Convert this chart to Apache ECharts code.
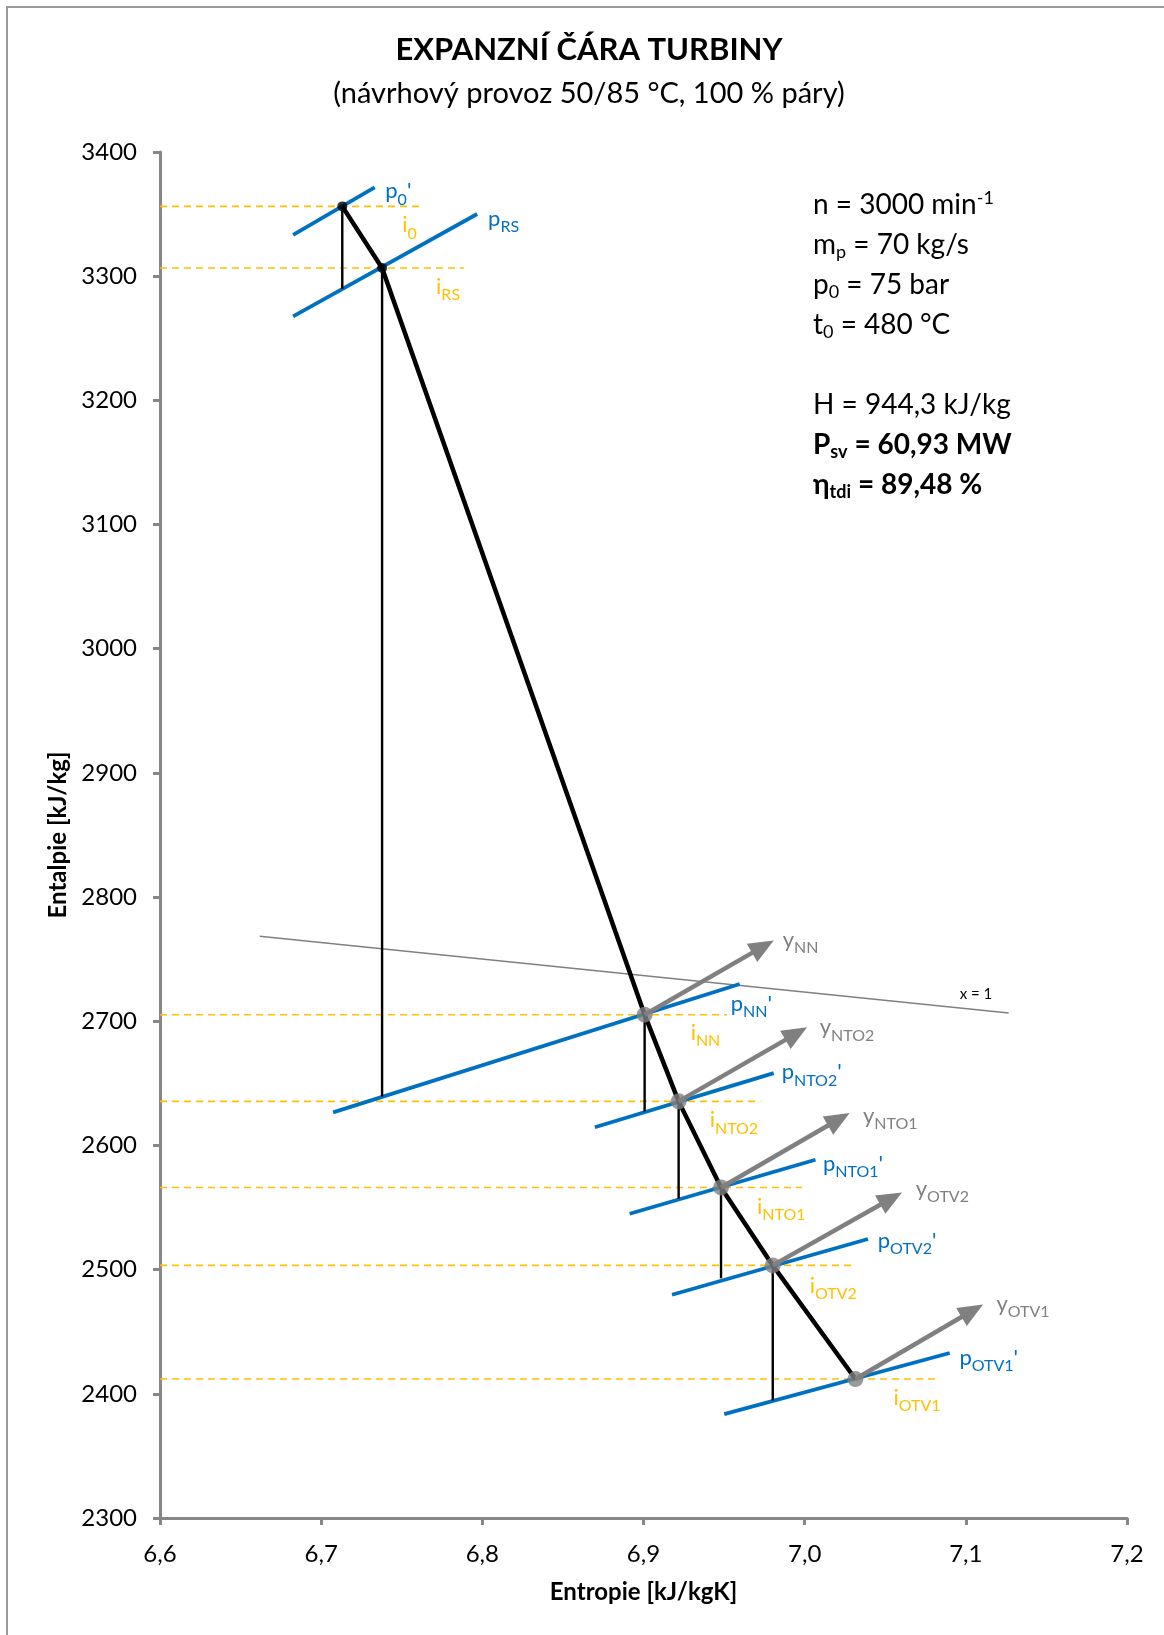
<!DOCTYPE html>
<html><head><meta charset="utf-8">
<script src="https://cdn.jsdelivr.net/npm/echarts@6/dist/echarts.min.js"></script>
<style>html,body{margin:0;padding:0;background:#fff}#c{width:1164px;height:1635px}</style>
</head><body><div id="c"></div>
<script>
// ---------------- DATA ----------------
const xMin = 6.6, xMax = 7.2, xStep = 0.1;
const yMin = 2300, yMax = 3400, yStep = 100;

// states on the expansion line
const stateKeys = ['0', 'RS', 'NN', 'NTO2', 'NTO1', 'OTV2', 'OTV1'];
const entropy  = [6.7131, 6.7378, 6.9007, 6.9218, 6.9481, 6.9802, 7.0315];
const enthalpy = [3356.2, 3306.6, 2705.3, 2635.5, 2566.2, 2503.4, 2411.9];

// isentropic drops: from state k (same entropy) down to the next isobar
const isentropicEnd = [3289.7, 2639.5, 2627.3, 2557.0, 2493.0, 2394.7];

// isobars p0', pRS, pNN', pNTO2', pNTO1', pOTV2', pOTV1'
const isobarS1 = [6.6826, 6.6826, 6.7074, 6.8698, 6.8914, 6.9177, 6.9501];
const isobarH1 = [3333.2, 3267.6, 2626.6, 2614.7, 2545.0, 2479.8, 2383.7];
const isobarS2 = [6.7332, 6.7968, 6.9597, 6.9808, 7.0067, 7.0393, 7.0900];
const isobarH2 = [3371.5, 3350.1, 2730.0, 2658.3, 2588.5, 2524.7, 2432.9];

// iso-enthalpy helper lines i_k (from the axis to this entropy)
const isoEnthalpyEndS = [6.7636, 6.7884, 6.9518, 6.9725, 6.9984, 7.0304, 7.0811];

// extraction arrows y_NN .. y_OTV1 (start = state NN..OTV1, tip below)
const extractionKeys = ['NN', 'NTO2', 'NTO1', 'OTV2', 'OTV1'];
const extractionTipS = [6.9808, 7.0015, 7.0279, 7.0604, 7.1107];
const extractionTipH = [2765.1, 2695.1, 2626.1, 2562.2, 2472.0];

// saturation line x = 1
const saturationS = [6.6619, 7.1266];
const saturationH = [2768.4, 2706.7];

// ---------------- STYLE ----------------
const FONT = 'Lato, "Noto Sans", sans-serif';
const BLUE = '#0070C0', YEL = '#FFC000', GRAY = '#808080', AX = '#878787';

const series = [];
stateKeys.forEach((k, i) => {
  series.push({type: 'line', silent: true, z: 1, symbol: 'none', animation: false,
    data: [[xMin, enthalpy[i]], [isoEnthalpyEndS[i], enthalpy[i]]],
    lineStyle: {color: YEL, width: 1.6, type: [7, 5]}});
});
series.push({type: 'line', silent: true, z: 2, symbol: 'none', animation: false,
  data: saturationS.map((s, i) => [s, saturationH[i]]),
  lineStyle: {color: GRAY, width: 1.5}});
isobarS1.forEach((s, i) => {
  series.push({type: 'line', silent: true, z: 3, symbol: 'none', animation: false,
    data: [[s, isobarH1[i]], [isobarS2[i], isobarH2[i]]],
    lineStyle: {color: BLUE, width: 3.8, cap: 'butt'}});
});
isentropicEnd.forEach((h, i) => {
  series.push({type: 'line', silent: true, z: 4, symbol: 'none', animation: false,
    data: [[entropy[i], enthalpy[i]], [entropy[i], h]],
    lineStyle: {color: '#000', width: 2.4}});
});
series.push({type: 'line', silent: true, z: 5, symbol: 'none', animation: false,
  data: entropy.map((s, i) => [s, enthalpy[i]]),
  lineStyle: {color: '#000', width: 4.5}});
series.push({type: 'custom', silent: true, z: 6, animation: false,
  encode: {x: [0, 2], y: [1, 3]},
  data: extractionKeys.map((k, j) => {
    const i = stateKeys.indexOf(k);
    return [entropy[i], enthalpy[i], extractionTipS[j], extractionTipH[j]];
  }),
  renderItem: (params, api) => {
    const a = api.coord([api.value(0), api.value(1)]);
    const b = api.coord([api.value(2), api.value(3)]);
    const dx = b[0] - a[0], dy = b[1] - a[1], L = Math.hypot(dx, dy);
    const ux = dx / L, uy = dy / L, nx = -uy, ny = ux;
    const hl = 25, hw = 21;
    const bx = b[0] - ux * hl, by = b[1] - uy * hl;
    return {type: 'group', children: [
      {type: 'line', shape: {x1: a[0], y1: a[1], x2: bx + ux * 3, y2: by + uy * 3},
        style: {stroke: GRAY, lineWidth: 4.5}},
      {type: 'polygon', shape: {points: [[b[0], b[1]], [bx + nx * hw / 2, by + ny * hw / 2], [bx - nx * hw / 2, by - ny * hw / 2]]},
        style: {fill: GRAY}}
    ]};
  }});
series.push({type: 'scatter', silent: true, z: 7, animation: false,
  data: entropy.map((s, i) => ({value: [s, enthalpy[i]],
    symbolSize: i < 2 ? 10 : 16,
    itemStyle: {color: i < 2 ? '#000' : GRAY}}))});

const chart = echarts.init(document.getElementById('c'), null, {renderer: 'canvas', width: 1164, height: 1635});
chart.setOption({
  animation: false,
  backgroundColor: '#fff',
  grid: {left: 160, right: 37, top: 152, bottom: 117, outerBoundsMode: 'none', containLabel: false},
  xAxis: {type: 'value', min: xMin, max: xMax, interval: xStep,
    name: 'Entropie [kJ/kgK]', nameLocation: 'middle', nameGap: 62,
    nameTextStyle: {fontFamily: FONT, fontWeight: 'bold', fontSize: 24, color: '#000'},
    axisLine: {show: true, lineStyle: {color: AX, width: 3}},
    axisTick: {show: true, length: 7, lineStyle: {color: AX, width: 3}},
    splitLine: {show: false},
    axisLabel: {margin: 24, fontFamily: FONT, fontSize: 24, color: '#000', hideOverlap: false,
      formatter: v => v.toFixed(1).replace('.', ',')}},
  yAxis: {type: 'value', min: yMin, max: yMax, interval: yStep,
    name: 'Entalpie [kJ/kg]', nameLocation: 'middle', nameGap: 88,
    nameTextStyle: {fontFamily: FONT, fontWeight: 'bold', fontSize: 24, color: '#000'},
    axisLine: {show: true, lineStyle: {color: AX, width: 3}},
    axisTick: {show: true, length: 7, lineStyle: {color: AX, width: 3}},
    splitLine: {show: false},
    axisLabel: {margin: 23, fontFamily: FONT, fontSize: 24, color: '#000', hideOverlap: false,
      formatter: v => String(Math.round(v))}},
  series: series
});

// ---------------- TEXT ----------------
function sym(main, sub, prime) {
  return '{m|' + main + '}{s|' + sub + '}' + (prime ? "{m|'}" : '');
}
const labelRich = (color) => ({
  m: {fontFamily: FONT, fontSize: 22, lineHeight: 26, fill: color, verticalAlign: 'middle'},
  s: {fontFamily: FONT, fontSize: 16, lineHeight: 16, fill: color, padding: [16, 0, 0, 0], verticalAlign: 'middle'}
});
// [state index, text, color, dx, dy]
const labelDefs = [
  [0, sym('p', '0', true), BLUE, 43, -12], [0, sym('i', '0'), YEL, 60, 22],
  [1, sym('p', 'RS'), BLUE, 106, -46], [1, sym('i', 'RS'), YEL, 54, 22],
  [2, sym('y', 'NN'), GRAY, 138, -72], [2, sym('p', 'NN', true), BLUE, 86, -8], [2, sym('i', 'NN'), YEL, 46, 21],
  [3, sym('y', 'NTO2'), GRAY, 141, -71], [3, sym('p', 'NTO2', true), BLUE, 103, -26], [3, sym('i', 'NTO2'), YEL, 31, 22],
  [4, sym('y', 'NTO1'), GRAY, 142, -69], [4, sym('p', 'NTO1', true), BLUE, 102, -21], [4, sym('i', 'NTO1'), YEL, 36, 22],
  [5, sym('y', 'OTV2'), GRAY, 143, -74], [5, sym('p', 'OTV2', true), BLUE, 105, -22], [5, sym('i', 'OTV2'), YEL, 37, 23],
  [6, sym('y', 'OTV1'), GRAY, 141, -72], [6, sym('p', 'OTV1', true), BLUE, 104, -18], [6, sym('i', 'OTV1'), YEL, 38, 22]
];
const graphics = [];
graphics.push({type: 'rect', silent: true, z: 0, shape: {x: 7, y: 7, width: 1300, height: 1800},
  style: {fill: 'none', stroke: '#9a9a9a', lineWidth: 2}});
graphics.push({type: 'text', x: 589, y: 50, z: 10, style: {text: 'EXPANZNÍ ČÁRA TURBINY', fontFamily: FONT, fontWeight: 'bold',
  fontSize: 31, fill: '#000', align: 'center', verticalAlign: 'middle'}});
graphics.push({type: 'text', x: 589, y: 94, z: 10, style: {text: '(návrhový provoz 50/85 °C, 100 % páry)', fontFamily: FONT,
  fontSize: 29, fill: '#000', align: 'center', verticalAlign: 'middle'}});
labelDefs.forEach(d => {
  const p = chart.convertToPixel({gridIndex: 0}, [entropy[d[0]], enthalpy[d[0]]]);
  graphics.push({type: 'text', x: p[0] + d[3], y: p[1] + d[4] - 3, z: 10,
    style: {text: d[1], rich: labelRich(d[2]), align: 'left', verticalAlign: 'middle'}});
});
const satEnd = chart.convertToPixel({gridIndex: 0}, [saturationS[1], saturationH[1]]);
graphics.push({type: 'text', x: satEnd[0] - 49, y: satEnd[1] - 19, z: 10,
  style: {text: 'x = 1', fontFamily: FONT, fontSize: 15, fill: '#000', align: 'left', verticalAlign: 'middle'}});

const infoRich = {
  a: {fontFamily: FONT, fontSize: 28, lineHeight: 40, fill: '#000', verticalAlign: 'middle'},
  s: {fontFamily: FONT, fontSize: 18, lineHeight: 18, fill: '#000', padding: [15, 0, 0, 0], verticalAlign: 'middle'},
  u: {fontFamily: FONT, fontSize: 18, lineHeight: 18, fill: '#000', padding: [0, 0, 14, 0], verticalAlign: 'middle'},
  b: {fontFamily: FONT, fontSize: 28, lineHeight: 40, fontWeight: 'bold', fill: '#000', verticalAlign: 'middle'},
  bs: {fontFamily: FONT, fontSize: 18, lineHeight: 18, fontWeight: 'bold', fill: '#000', padding: [15, 0, 0, 0], verticalAlign: 'middle'}
};
const infoText = [
  '{a|n = 3000 min}{u|-1}',
  '{a|m}{s|p}{a| = 70 kg/s}',
  '{a|p}{s|0}{a| = 75 bar}',
  '{a|t}{s|0}{a| = 480 °C}',
  '{a| }',
  '{a|H = 944,3 kJ/kg}',
  '{b|P}{bs|sv}{b| = 60,93 MW}',
  '{b|η}{bs|tdi}{b| = 89,48 %}'
].join('\n');
graphics.push({type: 'text', x: 813, y: 185, z: 10, style: {text: infoText, rich: infoRich, align: 'left', verticalAlign: 'top'}});

chart.setOption({graphic: graphics});
</script>
</body></html>
